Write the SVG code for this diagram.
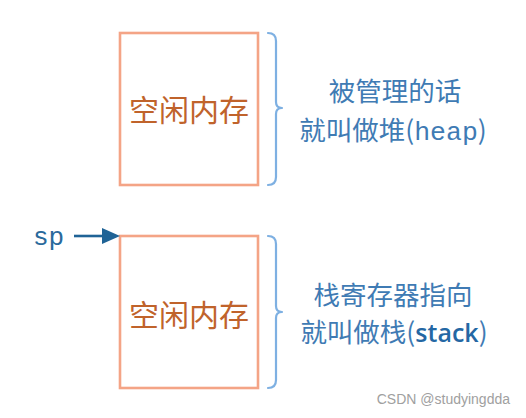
<svg xmlns="http://www.w3.org/2000/svg" width="526" height="418" viewBox="0 0 526 418">
<style>
.box{fill:#fff;stroke:#f4a486;stroke-width:2.6}
.mem{font-family:"Noto Sans CJK SC","Noto Sans",sans-serif;font-size:30px;fill:#c0632b;text-anchor:middle}
.brace{fill:none;stroke:#7eb0e2;stroke-width:2.2;stroke-linejoin:round;stroke-linecap:round}
.lbl{font-family:"Noto Sans CJK SC","Noto Sans",sans-serif;font-size:26.5px;fill:#3f7bb4;text-anchor:middle}
.mono{font-family:"Liberation Mono",monospace}
.conn{stroke:#1f6396;stroke-width:2.6;fill:none}
</style>
<g id="heap">
<rect class="box" x="120" y="33" width="138" height="152"/>
<text class="mem" x="189" y="121">空闲内存</text>
</g>
<g id="heap-brace">
<path class="brace" d="M268,33 Q276,33 276,41 L276,102 Q276,108 282,108 Q276,108 276,114 L276,177 Q276,185 268,185"/>
</g>
<g id="heap-label">
<text class="lbl" x="395" y="101">被管理的话</text>
<text class="lbl" x="393" y="140">就叫做堆(<tspan class="mono">heap</tspan>)</text>
</g>
<g id="stack">
<rect class="box" x="120" y="236" width="138" height="152"/>
<text class="mem" x="189" y="326">空闲内存</text>
</g>
<g id="stack-brace">
<path class="brace" d="M268,236 Q276,236 276,244 L276,306 Q276,312 282,312 Q276,312 276,318 L276,380 Q276,388 268,388"/>
</g>
<g id="stack-label">
<text class="lbl" x="393" y="305">栈寄存器指向</text>
<text class="lbl" x="394" y="342">就叫做栈(<tspan font-family="'Open Sans','Liberation Sans',sans-serif" font-weight="600" font-size="25" fill="#2467a4">stack</tspan>)</text>
</g>
<g id="sp">
<text x="33" y="245" font-family="'Liberation Mono',monospace" font-size="26" fill="#2a6a9c">sp</text>
</g>
<g id="connectors">
<line class="conn" x1="74" y1="236" x2="104" y2="236"/>
<path d="M102,228 L120,236 L102,244 Z" fill="#1f6396"/>
</g>
<text x="510" y="404" font-family="'Liberation Sans',sans-serif" font-size="14" fill="#a0a0a0" text-anchor="end">CSDN @studyingdda</text>
</svg>
